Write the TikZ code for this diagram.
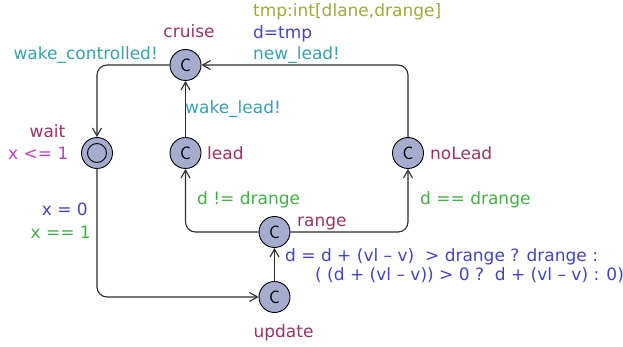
\documentclass[tikz,border=0pt]{standalone}
\usepackage{fontspec}
\setmainfont{DejaVu Sans}
\usetikzlibrary{arrows.meta}
\definecolor{locname}{RGB}{153,51,102}
\definecolor{synccol}{RGB}{56,160,172}
\definecolor{selectcol}{RGB}{160,170,60}
\definecolor{assigncol}{RGB}{68,68,187}
\definecolor{guardcol}{RGB}{68,175,68}
\definecolor{invcol}{RGB}{187,68,187}
\definecolor{locfill}{RGB}{165,172,206}
\definecolor{edgecol}{RGB}{45,45,45}

\begin{document}
\begin{tikzpicture}[x=1pt,y=-1pt,
  loc/.style={circle,draw=black,line width=0.9pt,fill=locfill,minimum size=31pt,inner sep=0pt,
    font=\sffamily\fontsize{18}{18}\selectfont},
  initloc/.style={loc,path picture={\draw[line width=0.9pt] (path picture bounding box.center) circle (9.5pt);}},
  lbl/.style={font=\fontsize{17}{21}\selectfont,inner sep=0pt,anchor=base west},
  trans/.style={draw=edgecol,line width=1.1pt,rounded corners=10pt,
    -{Straight Barb[length=8pt,width=9pt,line width=1.1pt]}}]
\useasboundingbox (0,0) rectangle (623,347);

% locations
\node[loc] (cruise) at (185.5,65) {C};
\node[initloc] (wait) at (97,153) {};
\node[loc] (lead) at (185.5,153) {C};
\node[loc] (nolead) at (408,153) {C};
\node[loc] (rng) at (274.5,232) {C};
\node[loc] (upd) at (274.5,297) {C};

% location names and invariants
\node[lbl,anchor=base,text=locname] (ncruise) at (189,38) {cruise};
\node[lbl,anchor=base,text=locname] (nwait) at (47.5,138) {wait};
\node[lbl,text=invcol] (iwait) at (8,160) {x <= 1};
\node[lbl,text=locname] (nlead) at (207,160) {lead};
\node[lbl,text=locname] (nnolead) at (430,160) {noLead};
\node[lbl,text=locname] (nrng) at (297,227) {range};
\node[lbl,anchor=base,text=locname] (nupd) at (283.5,337) {update};

% transitions
\draw[trans] (nolead.north) |- (cruise.east);
\draw[trans] (cruise.west) -| (wait.north);
\draw[trans] (lead.north) -- (cruise.south);
\draw[trans] (wait.south) |- (upd.west);
\draw[trans] (upd.north) -- (rng.south);
\draw[trans] (rng.west) -| (lead.south);
\draw[trans] (rng.east) -| (nolead.south);

% transition labels
\node[lbl,text=selectcol] (sel) at (253,17) {tmp:int[dlane,drange]};
\node[lbl,text=assigncol] (asg1) at (253,38.5) {d=tmp};
\node[lbl,text=synccol] (syn1) at (253,60) {new\_lead!};
\node[lbl,anchor=base east,text=synccol] (syn2) at (158,60) {wake\_controlled!};
\node[lbl,text=synccol] (syn3) at (185,114) {wake\_lead!};
\node[lbl,anchor=base east,text=assigncol] (asg2) at (88,216) {x = 0};
\node[lbl,anchor=base east,text=guardcol] (grd1) at (91,238) {x == 1};
\node[lbl,text=guardcol] (grd2) at (197,205) {d != drange};
\node[lbl,text=guardcol] (grd3) at (420,205) {d == drange};
\node[lbl,text=assigncol] (asg3) at (285,261) {d = d + (vl – v)\ \ > drange ? drange :};
\node[lbl,text=assigncol] (asg4) at (315,280) {( (d + (vl – v)) > 0 ?\ \ d + (vl – v) : 0)};
\end{tikzpicture}
\end{document}
